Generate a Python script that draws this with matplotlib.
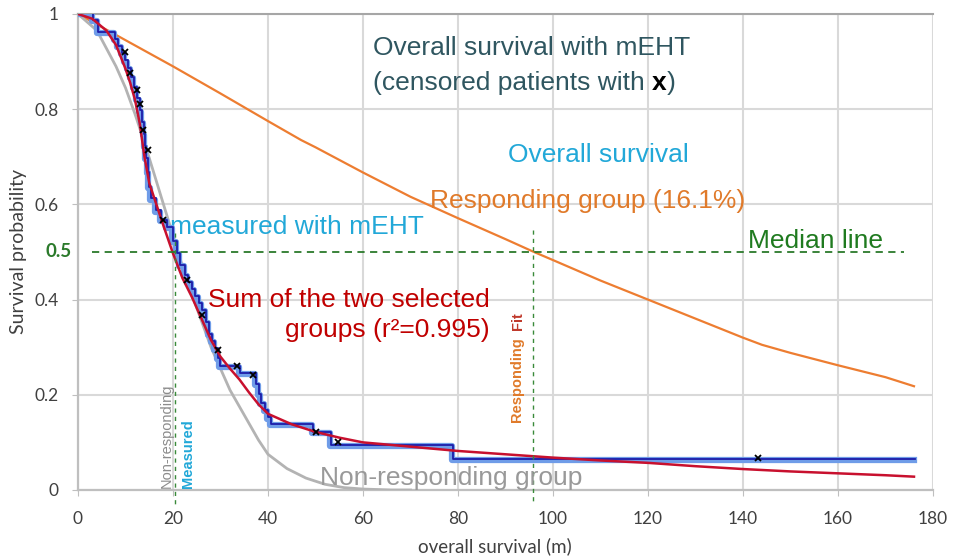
import numpy as np
import matplotlib
matplotlib.use('Agg')
import matplotlib.pyplot as plt
import matplotlib.transforms as mtransforms

# responding group fit (orange)
resp_t = [0, 10, 20, 30, 40, 47, 50, 60, 70, 80, 90, 96, 100, 110, 120, 130, 140, 144, 150, 160, 170, 176]
resp_s = [1.0, 0.945, 0.89, 0.833, 0.775, 0.735, 0.72, 0.667, 0.616, 0.571, 0.527, 0.5, 0.483, 0.44, 0.40,
          0.36, 0.32, 0.305, 0.288, 0.262, 0.237, 0.218]

# non-responding group fit (gray)
nonresp_t = [0, 4, 8, 10, 12, 14, 16, 18, 20, 22, 24, 26, 28, 30, 32, 34, 36, 38, 40, 44, 48, 52, 56, 60, 66, 70]
nonresp_s = [1.0, 0.965, 0.89, 0.845, 0.79, 0.73, 0.665, 0.6, 0.535, 0.47, 0.41, 0.355, 0.3, 0.255, 0.21,
             0.175, 0.14, 0.105, 0.075, 0.045, 0.025, 0.012, 0.005, 0.002, 0.0, 0.0]

# sum of the two groups (red)
sum_t = [0, 3, 6, 8, 10, 11, 12, 13, 14, 15, 16, 17, 18, 20, 22, 24, 26, 28, 30, 32, 34, 36, 38, 40, 45,
         50, 55, 60, 70, 80, 90, 100, 110, 120, 130, 140, 150, 160, 170, 176]
sum_s = [1.0, 0.99, 0.965, 0.935, 0.885, 0.855, 0.82, 0.77, 0.70, 0.645, 0.615, 0.585, 0.555, 0.497, 0.445,
         0.405, 0.36, 0.315, 0.28, 0.255, 0.232, 0.205, 0.18, 0.16, 0.138, 0.122, 0.11, 0.10, 0.091, 0.082,
         0.075, 0.068, 0.062, 0.057, 0.05, 0.044, 0.039, 0.035, 0.031, 0.028]

# measured Kaplan-Meier steps (blue)
km_t = [0, 3, 4, 7.5, 8.3, 9, 9.7, 10.3, 11, 11.6, 12.2, 12.8, 13.3, 13.6, 13.9, 14.2, 14.5, 14.8, 15.2,
        16.3, 17.3, 18.5, 19.8, 20.6, 21.2, 22.3, 23, 23.8, 24.5, 25.3, 26, 26.7, 27.3, 28, 28.7, 29.3,
        29.7, 34, 37.3, 37.8, 38.4, 39.1, 39.8, 40.5, 49.3, 53, 78.7, 176]
km_s = [1.0, 0.985, 0.96, 0.945, 0.93, 0.915, 0.9, 0.885, 0.865, 0.845, 0.82, 0.795, 0.77, 0.745, 0.72,
        0.695, 0.665, 0.635, 0.61, 0.585, 0.565, 0.55, 0.52, 0.495, 0.47, 0.45, 0.435, 0.42, 0.405, 0.39,
        0.375, 0.35, 0.325, 0.31, 0.295, 0.275, 0.258, 0.243, 0.22, 0.2, 0.18, 0.165, 0.15, 0.137, 0.12,
        0.092, 0.062, 0.062]

# censored patients
cens_t = [9.9, 10.9, 12.4, 13.0, 13.7, 14.7, 17.9, 22.9, 26.1, 29.5, 33.5, 36.8, 50.2, 54.8, 143.2]
cens_s = [0.92, 0.875, 0.84, 0.81, 0.756, 0.714, 0.567, 0.441, 0.368, 0.294, 0.26, 0.242, 0.122, 0.101, 0.067]

median = 0.5
median_nonresp = 20.5
median_resp = 95.8

xticks = [0, 20, 40, 60, 80, 100, 120, 140, 160, 180]
yticks = [0, 0.2, 0.4, 0.6, 0.8, 1]
ytick_labels = ['0', '0.2', '0.4', '0.6', '0.8', '1']

ann = 'Liberation Sans'
tickfont = 'Lato'

fig = plt.figure(figsize=(9.58, 5.57), dpi=100)
ax = fig.add_axes([0.0814, 0.1203, 0.8925, 0.8546])
ax.set_xlim(0, 180)
ax.set_ylim(0, 1)

ax.set_xticks(xticks)
ax.set_yticks(yticks)
ax.set_yticklabels(ytick_labels)
ax.grid(True, color='#d9d9d9', lw=1.5)
ax.set_axisbelow(True)
ax.spines['right'].set_visible(False)
ax.spines['top'].set_color('#a6a6a6')
ax.spines['top'].set_linewidth(1.5)
for s in ['left', 'bottom']:
    ax.spines[s].set_color('#bfbfbf')
    ax.spines[s].set_linewidth(1.6)
ax.tick_params(axis='x', length=4, color='#bfbfbf', pad=11, labelsize=12.5, labelcolor='#404040')
ax.tick_params(axis='y', length=4, color='#bfbfbf', pad=10, labelsize=12.5, labelcolor='#404040')
for lab in ax.get_xticklabels() + ax.get_yticklabels():
    lab.set_family(tickfont)

ax.text(0.488, -0.119, 'overall survival (m)', transform=ax.transAxes, ha='center', va='center',
        family=tickfont, fontsize=13.5, color='#404040')
ax.text(-0.069, 0.5, 'Survival probability', transform=ax.transAxes, rotation=90,
        ha='center', va='center', family=tickfont, fontsize=14, color='#404040')

# curves
ax.plot(resp_t, resp_s, color='#ED7D31', lw=1.6, zorder=3)
ax.plot(nonresp_t, nonresp_s, color='#b3b3b3', lw=2, zorder=3)
ax.step(km_t, km_s, where='post', color='#6f9ce8', lw=4.5, zorder=4)
dark = mtransforms.offset_copy(ax.transData, fig=fig, x=1.0, y=1.2, units='dots')
ax.step(km_t, km_s, where='post', color='#1c1ca8', lw=1.3, zorder=5, transform=dark)
ax.plot(sum_t, sum_s, color='#c8102e', lw=1.8, zorder=6)
ax.plot(cens_t, cens_s, 'x', color='black', ms=4, mew=1.3, zorder=7)

# median lines
ax.plot([2.9, 174], [median, median], color='#2b7a2b', lw=1.3, ls=(0, (4, 3)), zorder=6)
ax.plot([median_nonresp, median_nonresp], [0.54, -0.035], color='#3a8a3a', lw=1,
        ls=(0, (3, 3)), zorder=6, clip_on=False)
ax.plot([median_resp, median_resp], [0.546, -0.025], color='#3a8a3a', lw=1,
        ls=(0, (3, 3)), zorder=6, clip_on=False)

# annotations
fs = 19
ax.text(62.1, 0.929, 'Overall survival with mEHT', family=ann, fontsize=fs, color='#2f5660',
        ha='left', va='center')
t1 = ax.text(62.1, 0.855, '(censored patients with ', family=ann, fontsize=fs, color='#2f5660',
             ha='left', va='center')
t2 = ax.annotate('x', xy=(1, 0), xycoords=t1, family=ann, fontsize=fs, color='black',
                 weight='bold', ha='left', va='bottom')
ax.annotate(')', xy=(1, 0), xycoords=t2, family=ann, fontsize=fs, color='#2f5660',
            ha='left', va='bottom')
ax.text(109.5, 0.704, 'Overall survival', family=ann, fontsize=fs, color='#22a8d8',
        ha='center', va='center')
ax.text(74.1, 0.607, 'Responding group (16.1%)', family=ann, fontsize=fs, color='#e07a2a',
        ha='left', va='center')
ax.text(19.4, 0.552, 'measured with mEHT', family=ann, fontsize=fs, color='#22a8d8',
        ha='left', va='center')
ax.text(141.1, 0.523, 'Median line', family=ann, fontsize=fs, color='#1f7a1f',
        ha='left', va='center')
ax.text(86.7, 0.399, 'Sum of the two selected', family=ann, fontsize=fs, color='#c00000',
        ha='right', va='center')
ax.text(86.7, 0.336, 'groups (r\u00b2=0.995)', family=ann, fontsize=fs, color='#c00000',
        ha='right', va='center')
ax.text(50.9, 0.025, 'Non-responding group', family=ann, fontsize=fs, color='#999999',
        ha='left', va='center', zorder=8)
ax.text(-0.008, median, '0.5', transform=mtransforms.blended_transform_factory(ax.transAxes, ax.transData),
        family=tickfont, fontsize=13.5, weight='bold', color='#2b7a2b', ha='right', va='center')

# rotated labels at the median lines
ax.text(18.7, 0.005, 'Non-responding', rotation=90, family=ann, fontsize=10.5, color='#8c8c8c',
        ha='center', va='bottom')
ax.text(23.1, 0.005, 'Measured', rotation=90, family=ann, fontsize=10.5, weight='bold',
        color='#22a8d8', ha='center', va='bottom')
rt = ax.text(92.7, 0.14, 'Responding  ', rotation=90, family=ann, fontsize=10.5, weight='bold',
             color='#e07a2a', ha='center', va='bottom')
ax.annotate('Fit', xy=(0.5, 1), xycoords=rt, rotation=90, family=ann, fontsize=10.5, weight='bold',
            color='#c0392b', ha='center', va='bottom')

fig.savefig('out.png', dpi=100)
